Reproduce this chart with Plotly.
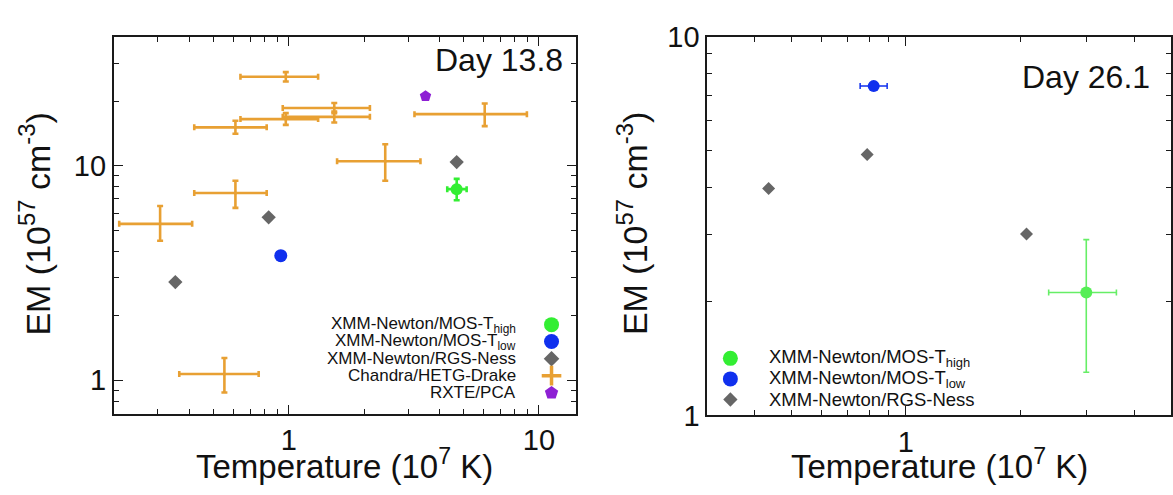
import plotly.graph_objects as go
import numpy as np

# ---------------- data: Day 13.8 ----------------
d13_chandra_T    = [0.306, 0.612, 0.553, 2.43, 6.07, 0.973, 1.52, 1.52, 0.973, 0.612]
d13_chandra_T_lo = [0.210, 0.419, 0.365, 1.56, 3.18, 0.641, 0.946, 0.946, 0.641, 0.419]
d13_chandra_T_hi = [0.411, 0.816, 0.758, 3.36, 8.95, 1.31, 2.11, 2.11, 1.31, 0.816]
d13_chandra_EM    = [5.36, 7.47, 1.07, 10.5, 17.4, 26.0, 18.6, 16.9, 16.5, 15.1]
d13_chandra_EM_lo = [4.47, 6.36, 0.877, 8.51, 15.3, 24.7, 17.6, 15.9, 15.5, 14.1]
d13_chandra_EM_hi = [6.49, 8.51, 1.27, 12.6, 19.5, 27.3, 19.6, 17.9, 17.6, 16.2]

d13_rgs_T  = [0.352, 0.831, 4.69]
d13_rgs_EM = [2.87, 5.75, 10.4]

d13_low_T  = [0.929]
d13_low_EM = [3.81]

d13_high_T     = [4.69]
d13_high_T_lo  = [4.30]
d13_high_T_hi  = [5.14]
d13_high_EM    = [7.78]
d13_high_EM_lo = [6.91]
d13_high_EM_hi = [8.69]

d13_rxte_T  = [3.52]
d13_rxte_EM = [21.1]

# ---------------- data: Day 26.1 ----------------
d26_rgs_T  = [0.435, 0.791, 2.08]
d26_rgs_EM = [3.97, 4.88, 3.01]

d26_low_T    = [0.823]
d26_low_T_lo = [0.758]
d26_low_T_hi = [0.893]
d26_low_EM   = [7.40]

d26_high_T     = [2.99]
d26_high_T_lo  = [2.38]
d26_high_T_hi  = [3.59]
d26_high_EM    = [2.11]
d26_high_EM_lo = [1.30]
d26_high_EM_hi = [2.91]

legend_left_labels = ["XMM-Newton/MOS-T<sub>high</sub>", "XMM-Newton/MOS-T<sub>low</sub>",
                      "XMM-Newton/RGS-Ness", "Chandra/HETG-Drake", "RXTE/PCA"]
legend_right_labels = legend_left_labels[:3]

# ---------------- style ----------------
W, H = 1173, 495
ORANGE = "#E8A033"
GREEN = "#33EE33"
BLUE = "#1030EE"
GRAY = "#666666"
PURPLE = "#8E20D4"
FONT = "Liberation Sans, Arial, Helvetica, sans-serif"
AX = "#1a1a1a"

def fx(p):
    return p / W

def fy(p):
    return 1 - p / H

def errs(v, lo, hi):
    v, lo, hi = np.array(v), np.array(lo), np.array(hi)
    return dict(type="data", symmetric=False, array=hi - v, arrayminus=v - lo)

fig = go.Figure()

# ---- left panel ----
ex = errs(d13_chandra_T, d13_chandra_T_lo, d13_chandra_T_hi)
ey = errs(d13_chandra_EM, d13_chandra_EM_lo, d13_chandra_EM_hi)
fig.add_trace(go.Scatter(
    x=d13_chandra_T, y=d13_chandra_EM, mode="markers", xaxis="x", yaxis="y",
    marker=dict(size=3, color=ORANGE),
    error_x=dict(**ex, color=ORANGE, thickness=2.6, width=3),
    error_y=dict(**ey, color=ORANGE, thickness=2.6, width=3),
    showlegend=False))
fig.add_trace(go.Scatter(x=d13_rgs_T, y=d13_rgs_EM, mode="markers", xaxis="x", yaxis="y",
                         marker=dict(symbol="diamond", size=11, color=GRAY), showlegend=False))
fig.add_trace(go.Scatter(x=d13_low_T, y=d13_low_EM, mode="markers", xaxis="x", yaxis="y",
                         marker=dict(symbol="circle", size=13, color=BLUE), showlegend=False))
ex = errs(d13_high_T, d13_high_T_lo, d13_high_T_hi)
ey = errs(d13_high_EM, d13_high_EM_lo, d13_high_EM_hi)
fig.add_trace(go.Scatter(
    x=d13_high_T, y=d13_high_EM, mode="markers", xaxis="x", yaxis="y",
    marker=dict(symbol="circle", size=12, color=GREEN),
    error_x=dict(**ex, color=GREEN, thickness=2.6, width=3),
    error_y=dict(**ey, color=GREEN, thickness=2.6, width=3),
    showlegend=False))
fig.add_trace(go.Scatter(x=d13_rxte_T, y=d13_rxte_EM, mode="markers", xaxis="x", yaxis="y",
                         marker=dict(symbol="pentagon", size=12, color=PURPLE), showlegend=False))

# ---- right panel ----
fig.add_trace(go.Scatter(x=d26_rgs_T, y=d26_rgs_EM, mode="markers", xaxis="x2", yaxis="y2",
                         marker=dict(symbol="diamond", size=10, color=GRAY), showlegend=False))
ex = errs(d26_low_T, d26_low_T_lo, d26_low_T_hi)
fig.add_trace(go.Scatter(
    x=d26_low_T, y=d26_low_EM, mode="markers", xaxis="x2", yaxis="y2",
    marker=dict(symbol="circle", size=12, color=BLUE),
    error_x=dict(**ex, color=BLUE, thickness=1.5, width=3),
    showlegend=False))
ex = errs(d26_high_T, d26_high_T_lo, d26_high_T_hi)
ey = errs(d26_high_EM, d26_high_EM_lo, d26_high_EM_hi)
fig.add_trace(go.Scatter(
    x=d26_high_T, y=d26_high_EM, mode="markers", xaxis="x2", yaxis="y2",
    marker=dict(symbol="circle", size=12, color="#55EE55"),
    error_x=dict(**ex, color="#66EE66", thickness=1.6, width=3),
    error_y=dict(**ey, color="#66EE66", thickness=1.6, width=3),
    showlegend=False))

# ---- legend keys on a hidden helper axis (paper fractions) ----
left_key_x = 552
left_key_rows = [330, 348, 366.5, 384.5, 403]
right_key_x = 731
right_key_rows = [366, 388, 410]
left_key_styles = [dict(symbol="circle", size=15, color=GREEN),
                   dict(symbol="circle", size=15, color=BLUE),
                   dict(symbol="diamond", size=12, color=GRAY),
                   dict(symbol="cross-thin", size=14, color=ORANGE, line=dict(color=ORANGE, width=3.5)),
                   dict(symbol="pentagon", size=14, color=PURPLE)]
right_key_styles = [dict(symbol="circle", size=15, color=GREEN),
                    dict(symbol="circle", size=15, color=BLUE),
                    dict(symbol="diamond", size=11, color=GRAY)]
for r, st in zip(left_key_rows, left_key_styles):
    fig.add_trace(go.Scatter(x=[fx(left_key_x)], y=[fy(r)], mode="markers", xaxis="x3", yaxis="y3",
                             marker=st, showlegend=False, hoverinfo="skip"))
for r, st in zip(right_key_rows, right_key_styles):
    fig.add_trace(go.Scatter(x=[fx(right_key_x)], y=[fy(r)], mode="markers", xaxis="x3", yaxis="y3",
                             marker=st, showlegend=False, hoverinfo="skip"))

annotations = []
for r, t in zip(left_key_rows, legend_left_labels):
    annotations.append(dict(x=fx(518), y=fy(r), xref="paper", yref="paper", text=t, showarrow=False,
                            xanchor="right", yanchor="middle", font=dict(family=FONT, size=17, color="#111")))
for r, t in zip(right_key_rows, legend_right_labels):
    annotations.append(dict(x=fx(768), y=fy(r), xref="paper", yref="paper", text=t, showarrow=False,
                            xanchor="left", yanchor="middle", font=dict(family=FONT, size=18.5, color="#111")))

# Day labels
annotations.append(dict(x=fx(565), y=fy(47), xref="paper", yref="paper", text="Day 13.8", showarrow=False,
                        xanchor="right", yanchor="middle", font=dict(family=FONT, size=32, color="#111")))
annotations.append(dict(x=fx(1153), y=fy(65), xref="paper", yref="paper", text="Day 26.1", showarrow=False,
                        xanchor="right", yanchor="middle", font=dict(family=FONT, size=32, color="#111")))

# Axis titles
xtitle = "Temperature (10<sup>7</sup> K)"
ytitle = "EM (10<sup>57</sup> cm<sup>-3</sup>)"
annotations.append(dict(x=fx(345), y=fy(479), xref="paper", yref="paper", text=xtitle, showarrow=False,
                        xanchor="center", yanchor="middle", font=dict(family=FONT, size=33, color="#111")))
annotations.append(dict(x=fx(940), y=fy(479), xref="paper", yref="paper", text=xtitle, showarrow=False,
                        xanchor="center", yanchor="middle", font=dict(family=FONT, size=33, color="#111")))
annotations.append(dict(x=fx(35), y=fy(222), xref="paper", yref="paper", text=ytitle, showarrow=False,
                        textangle=-90, xanchor="center", yanchor="middle",
                        font=dict(family=FONT, size=34, color="#111")))
annotations.append(dict(x=fx(633), y=fy(222), xref="paper", yref="paper", text=ytitle, showarrow=False,
                        textangle=-90, xanchor="center", yanchor="middle",
                        font=dict(family=FONT, size=34, color="#111")))

# ---- axes ----
def minor_vals(lo_dec, hi_dec):
    return [m * 10.0 ** d for d in range(lo_dec, hi_dec + 1) for m in range(2, 10)]

def log_axis(domain, rng, major_vals, major_text, minor_list, anchor):
    return dict(
        type="log", domain=domain, range=[np.log10(rng[0]), np.log10(rng[1])], anchor=anchor,
        showline=True, linecolor=AX, linewidth=2, mirror="allticks",
        ticks="inside", ticklen=9, tickwidth=1.4, tickcolor=AX,
        showgrid=False, zeroline=False,
        tickmode="array", tickvals=major_vals, ticktext=major_text,
        tickfont=dict(family=FONT, size=29, color="#111"),
        minor=dict(ticks="inside", ticklen=5, tickwidth=1.2, tickcolor=AX, showgrid=False,
                   tickmode="array", tickvals=minor_list),
        fixedrange=True,
    )

fig.update_layout(
    width=W, height=H,
    margin=dict(l=0, r=0, t=0, b=0),
    paper_bgcolor="white", plot_bgcolor="rgba(0,0,0,0)",
    xaxis=log_axis([fx(114), fx(576)], [0.2, 14], [1, 10], ["1", "10"], minor_vals(-1, 0), "y"),
    yaxis=log_axis([fy(425), fy(22)], [0.7, 40], [1, 10], ["1", "10"], minor_vals(-1, 1), "x"),
    xaxis2=log_axis([fx(708), fx(1172)], [0.3, 5], [1], ["1"], minor_vals(-1, 0), "y2"),
    yaxis2=log_axis([fy(427), fy(22)], [1, 10], [1, 10], ["1", "10"], minor_vals(0, 0), "x2"),
    xaxis3=dict(domain=[0, 1], range=[0, 1], visible=False, anchor="y3", fixedrange=True),
    yaxis3=dict(domain=[0, 1], range=[0, 1], visible=False, anchor="x3", fixedrange=True),
    annotations=annotations,
    showlegend=False,
)

fig.write_html("out.html")
